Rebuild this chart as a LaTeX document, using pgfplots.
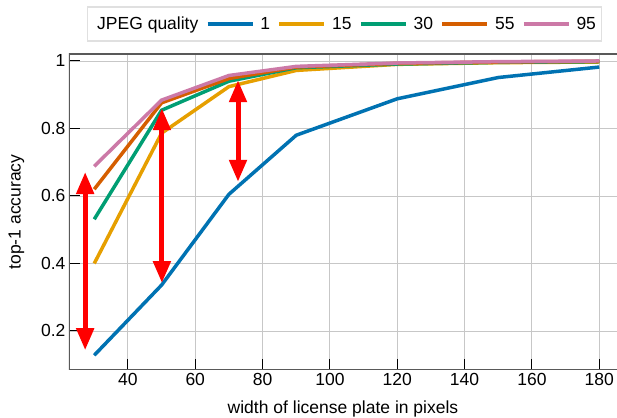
\documentclass[border=0pt]{standalone}
\usepackage{fontspec}
\setmainfont{Liberation Sans}
\usepackage{pgfplots}
\pgfplotsset{compat=1.18}
\usetikzlibrary{arrows.meta}
\definecolor{qa}{HTML}{0072B2}
\definecolor{qb}{HTML}{E69F00}
\definecolor{qc}{HTML}{009E73}
\definecolor{qd}{HTML}{D55E00}
\definecolor{qe}{HTML}{CC79A7}

\begin{document}
\begin{tikzpicture}
\begin{axis}[
  name=ax,
  scale only axis,
  width=548pt, height=316pt,
  xmin=22.5, xmax=185.27,
  ymin=0.0844, ymax=1.0207,
  xtick={40,60,...,180},
  ytick={0.2,0.4,0.6,0.8,1},
  tick pos=left, tick align=inside,
  major tick length=11pt,
  tick style={black, line width=1pt},
  grid=major, grid style={black!22, line width=0.9pt},
  axis line style={draw=none},
  font=\fontsize{17.5}{21}\selectfont,
  /pgf/number format/assume math mode=true,
  xlabel={width of license plate in pixels},
  ylabel={top-1 accuracy},
  xlabel shift=8pt,
  ylabel shift=10pt,
  legend columns=-1,
  legend style={at={(axis description cs:0.0328,1.038)}, anchor=south west,
    draw=black!12, line width=1.5pt, inner xsep=3.5pt, inner ysep=8pt,
    /tikz/every odd column/.append style={column sep=4pt},
    /tikz/every even column/.append style={column sep=5.5pt}},
  legend image code/.code={\draw[#1] (0pt,0pt) -- (45pt,0pt);},
  every axis plot/.append style={line width=3.5pt},
]
\addlegendimage{empty legend}
\addlegendentry{JPEG quality}
\addplot[qa] coordinates {(30,0.128)(50,0.336)(70,0.605)(90,0.780)(120,0.888)(150,0.951)(180,0.982)};
\addlegendentry{1}
\addplot[qb] coordinates {(30,0.400)(50,0.786)(70,0.924)(90,0.972)(120,0.990)(150,0.995)(180,0.997)};
\addlegendentry{15}
\addplot[qc] coordinates {(30,0.531)(50,0.854)(70,0.940)(90,0.980)(120,0.991)(150,0.996)(180,0.998)};
\addlegendentry{30}
\addplot[qd] coordinates {(30,0.620)(50,0.876)(70,0.948)(90,0.982)(120,0.993)(150,0.997)(180,0.999)};
\addlegendentry{55}
\addplot[qe] coordinates {(30,0.688)(50,0.884)(70,0.957)(90,0.984)(120,0.994)(150,0.998)(180,1.000)};
\addlegendentry{95}
\addplot[red, line width=5pt, forget plot, {Triangle[length=22pt,width=17pt]}-{Triangle[length=22pt,width=17pt]}]
  coordinates {(27.3,0.671)(27.3,0.143)};
\addplot[red, line width=5pt, forget plot, {Triangle[length=22pt,width=17pt]}-{Triangle[length=22pt,width=17pt]}]
  coordinates {(50.1,0.860)(50.1,0.342)};
\addplot[red, line width=5pt, forget plot, {Triangle[length=22pt,width=17pt]}-{Triangle[length=22pt,width=17pt]}]
  coordinates {(72.7,0.943)(72.7,0.642)};
\draw[black!65, line width=1.3pt] (rel axis cs:1,1) -- (rel axis cs:0,1) -- (rel axis cs:0,0) -- (rel axis cs:1,0);
\end{axis}
\pgfresetboundingbox
\useasboundingbox ([shift={(-69pt,-48pt)}]ax.south west) rectangle ([shift={(0pt,54pt)}]ax.north east);
\end{tikzpicture}
\end{document}
